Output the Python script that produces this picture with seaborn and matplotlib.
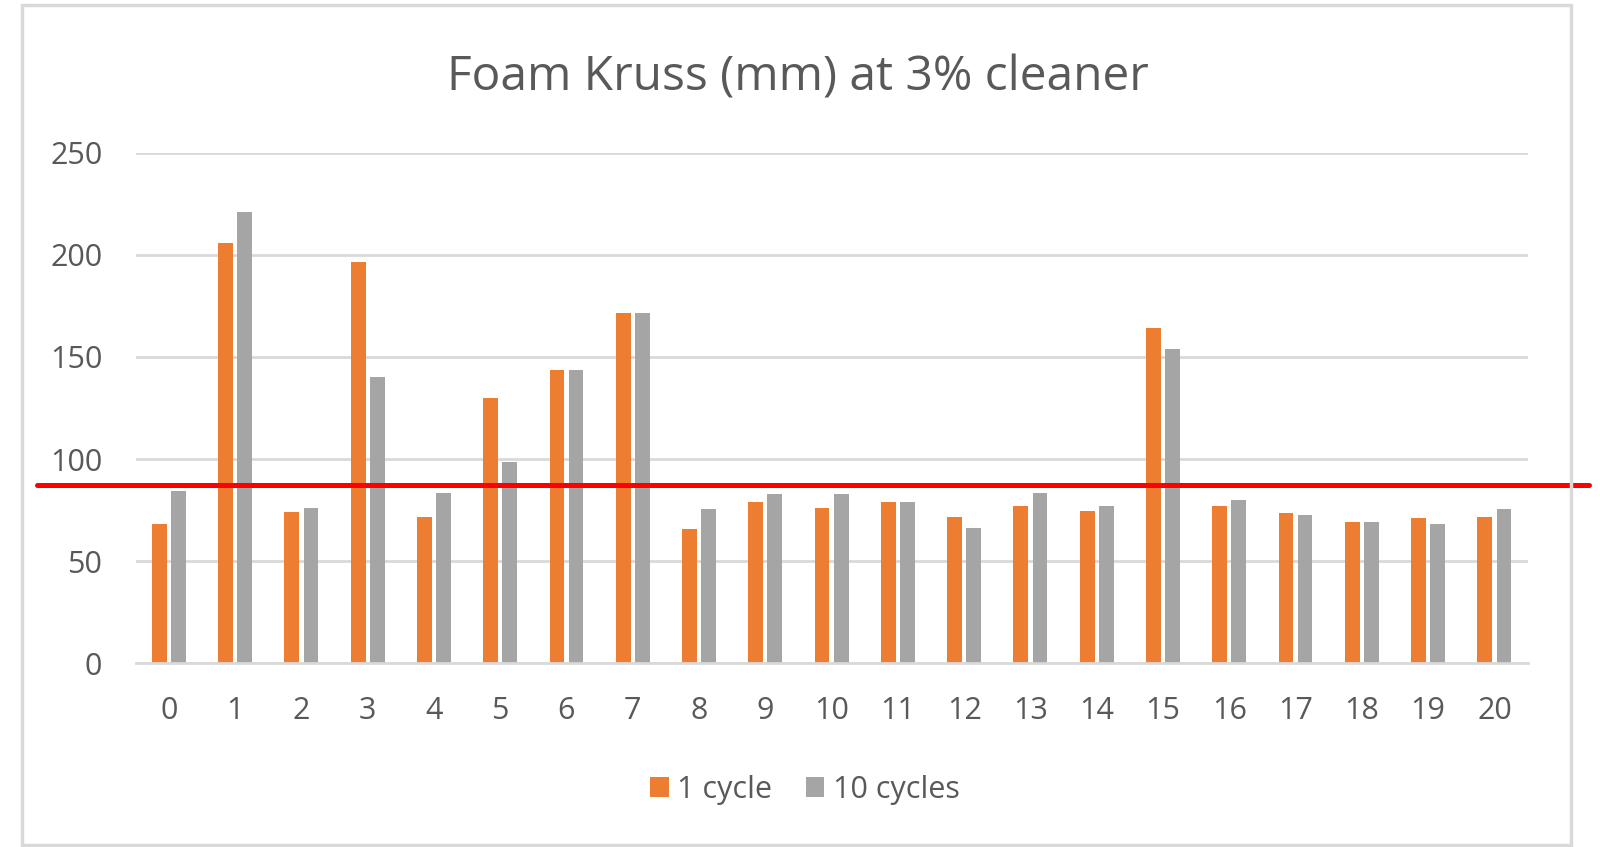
import matplotlib
matplotlib.use("Agg")
import matplotlib.pyplot as plt
from matplotlib.patches import Rectangle
import seaborn as sns
import pandas as pd

categories = [str(i) for i in range(21)]
series_names = ["1 cycle", "10 cycles"]
one_cycle = [68, 206, 74, 196.5, 71.5, 130, 143.5, 171.5, 65.5, 79, 76, 79, 71.5, 77, 74.5, 164, 77, 73.5, 69, 71, 71.5]
ten_cycles = [84.5, 221, 76, 140, 83.5, 98.5, 143.5, 171.5, 75.5, 83, 83, 79, 66, 83.5, 77, 154, 80, 72.5, 69, 68, 75.5]
threshold = 87.5
title = "Foam Kruss (mm) at 3% cleaner"
y_ticks = [0, 50, 100, 150, 200, 250]

colors = ["#ED7D31", "#A5A5A5"]
text_color = "#595959"
grid_color = "#D9D9D9"

df = pd.DataFrame({
    "category": categories * 2,
    "series": [series_names[0]] * len(categories) + [series_names[1]] * len(categories),
    "value": one_cycle + ten_cycles,
})

sns.set_theme(style="white")
plt.rcParams["font.family"] = ["Open Sans", "DejaVu Sans"]

fig = plt.figure(figsize=(16, 8.47), dpi=100)
ax = fig.add_axes([0.0848, 0.2172, 0.8699, 0.6022])

sns.barplot(data=df, x="category", y="value", hue="series", order=categories,
            hue_order=series_names, palette=colors, width=0.576, gap=0.225,
            saturation=1, linewidth=0, ax=ax, legend=True)

ax.set_ylim(0, 250)
ax.set_yticks(y_ticks)
ax.set_xlim(-0.5, len(categories) - 0.5)
ax.yaxis.grid(True, color=grid_color, linewidth=2)
ax.set_axisbelow(True)
for s in ["top", "right", "left"]:
    ax.spines[s].set_visible(False)
ax.spines["bottom"].set_color(grid_color)
ax.spines["bottom"].set_linewidth(2)
ax.set_xlabel("")
ax.set_ylabel("")
ax.tick_params(axis="y", length=0, pad=24, labelsize=22, labelcolor=text_color)
ax.tick_params(axis="x", length=0, pad=23.5, labelsize=22, labelcolor=text_color)

ax.axhline(threshold, xmin=-0.071, xmax=1.0445, color="#FF0000", linewidth=3.6,
           clip_on=False, zorder=5)

fig.suptitle(title, x=0.4985, y=1 - 77.5 / 847, va="center", fontsize=34.5, color=text_color)

handles, labels = ax.get_legend_handles_labels()
ax.get_legend().remove()
fig.legend(handles, labels, loc="center", bbox_to_anchor=(0.503, 0.0675),
           ncol=2, frameon=False, fontsize=22, labelcolor=text_color,
           handlelength=0.6, handleheight=0.6, handletextpad=0.28,
           columnspacing=1.1)

fig.patches.append(Rectangle((22 / 1600, 1 - 845 / 847), (1571 - 22) / 1600, (845 - 5) / 847,
                             transform=fig.transFigure, fill=False,
                             edgecolor=grid_color, linewidth=2.5))

fig.savefig("out.png", dpi=100, facecolor="white")
